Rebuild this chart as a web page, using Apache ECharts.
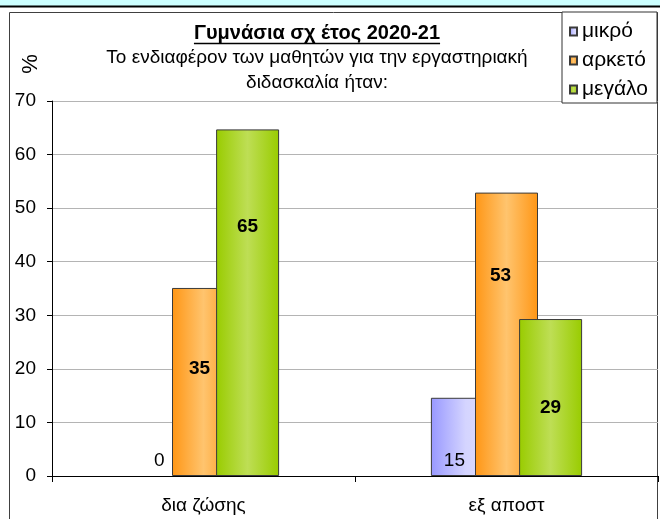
<!DOCTYPE html>
<html><head><meta charset="utf-8">
<script src="https://cdn.jsdelivr.net/npm/echarts@6/dist/echarts.min.js"></script>
<style>html,body{margin:0;padding:0;background:#fff}#c{width:660px;height:519px}</style>
</head><body><div id="c"></div>
<script>
// ---- data ----
const categories = ['δια ζώσης', 'εξ αποστ'];
const seriesNames = ['μικρό', 'αρκετό', 'μεγάλο'];
const mikro = [0, 14.6];
const arketo = [35.1, 52.9];
const megalo = [64.7, 29.3];
const yMin = 0, yMax = 70, yInterval = 10;
const titleText = 'Γυμνάσια σχ έτος 2020-21';
const subtitleText = 'Το ενδιαφέρον των μαθητών για την εργαστηριακή\nδιδασκαλία ήταν:';
const yAxisName = '%';

// ---- style ----
const FONT = '"Liberation Sans", Arial, sans-serif';
const FS = 19;
const LFS = 21;
const labelOffsets = [
  [[0, -15], [-8, 24]],
  [[-4, -13], [-6, -59]],
  [[0, -76], [0, 10]]
];
const labelWeights = ['normal', 'bold', 'bold'];
function hgrad(stops) {
  return new echarts.graphic.LinearGradient(0, 0, 1, 0, stops.map(c => ({offset: c[0], color: c[1]})));
}
const fills = [
  hgrad([[0, '#9898ff'], [0.55, '#d4d4ff'], [1, '#dedeff']]),
  hgrad([[0, '#ff9615'], [0.5, '#ffc46e'], [1, '#ff9615']]),
  hgrad([[0, '#99cc00'], [0.5, '#bede55'], [1, '#99cc00']])
];
const values = [mikro, arketo, megalo];

const chart = echarts.init(document.getElementById('c'));

const cv = document.createElement('canvas').getContext('2d');
cv.font = 'bold 20px ' + FONT;
const titleW = cv.measureText(titleText).width;
cv.font = LFS + 'px ' + FONT;
const legendTextW = Math.max(...seriesNames.map(n => cv.measureText(n).width));
const titleCX = 317;
// legend box: left 562, right 657
const legPadL = 7, legIcon = 7;
const legPadR = Math.max(2, 94 - legPadL - legIcon - 5 - legendTextW);

const series = seriesNames.map((name, si) => ({
  name: name,
  type: 'bar',
  barWidth: 63,
  barGap: '-30%',
  itemStyle: {color: fills[si], borderColor: '#3a3a3a', borderWidth: 1},
  label: {
    show: true, position: 'inside', color: '#000',
    fontFamily: FONT, fontSize: FS, fontWeight: labelWeights[si],
    formatter: p => Math.round(p.value)
  },
  data: values[si].map((v, i) => ({
    value: v,
    label: {offset: labelOffsets[si][i]},
    itemStyle: v === 0 ? {borderWidth: 0} : undefined
  }))
}));

chart.setOption({
  animation: false,
  backgroundColor: '#fff',
  grid: {left: 52, right: 2, top: 101, bottom: 43},
  legend: {
    data: seriesNames, orient: 'vertical', left: 562, top: 12,
    padding: [9, legPadR, 3, legPadL], itemWidth: legIcon, itemHeight: 8, itemGap: 8,
    icon: 'rect', backgroundColor: '#fff', borderColor: '#333', borderWidth: 1,
    textStyle: {fontFamily: FONT, fontSize: LFS, color: '#000', lineHeight: 16}
  },
  xAxis: {
    type: 'category', data: categories,
    axisLine: {lineStyle: {color: '#000', width: 1}},
    axisTick: {show: true, inside: false, length: 6, lineStyle: {color: '#000'}},
    axisLabel: {fontFamily: FONT, fontSize: FS, color: '#000', margin: 20}
  },
  yAxis: {
    type: 'value', min: yMin, max: yMax, interval: yInterval,
    axisLine: {show: true, lineStyle: {color: '#000'}},
    axisTick: {show: true, length: 5, lineStyle: {color: '#000'}},
    axisLabel: {fontFamily: FONT, fontSize: FS, color: '#000', margin: 16},
    splitLine: {lineStyle: {color: '#b4b4b4', width: 1}}
  },
  graphic: [
    {type: 'rect', z: -10, shape: {x: 0, y: 0, width: 660, height: 6}, style: {fill: '#ccffff'}},
    {type: 'line', z: 10, shape: {x1: 0, y1: 6.5, x2: 660, y2: 6.5}, style: {stroke: '#000', lineWidth: 2}},
    {type: 'rect', z: -5, shape: {x: 9.5, y: 12.5, width: 648, height: 530}, style: {fill: 'none', stroke: '#404040', lineWidth: 1}},
    {type: 'text', x: titleCX, y: 33, style: {text: titleText, font: 'bold 20px ' + FONT, fill: '#000', align: 'center', verticalAlign: 'middle'}},
    {type: 'line', shape: {x1: titleCX - titleW / 2, y1: 43.5, x2: titleCX + titleW / 2, y2: 43.5}, style: {stroke: '#000', lineWidth: 1.3}},
    {type: 'text', x: titleCX, y: 45, style: {text: subtitleText, font: FS + 'px ' + FONT, lineHeight: 25, fill: '#000', align: 'center', verticalAlign: 'top'}},
    {type: 'text', x: 31, y: 64, rotation: Math.PI / 2, style: {text: yAxisName, font: '22px ' + FONT, fill: '#000', align: 'center', verticalAlign: 'middle'}}
  ],
  series: series
});
</script></body></html>
